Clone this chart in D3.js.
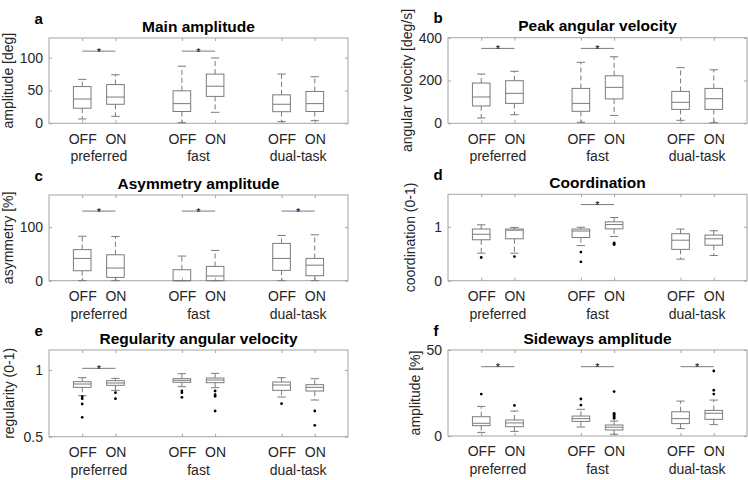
<!DOCTYPE html>
<html>
<head>
<meta charset="utf-8">
<script src="https://cdn.jsdelivr.net/npm/d3@7"></script>
<style>
  html, body { margin: 0; padding: 0; background: #fff; }
  svg { display: block; font-family: "Liberation Sans", Arial, sans-serif; }
</style>
</head>
<body>
<svg id="chart" width="748" height="480"></svg>
<script>
// ---------------- DATA ----------------
const categories = ["preferred", "fast", "dual-task"];
const conditions = ["OFF", "ON"];
const boxPositions = [1, 2, 4, 5, 7, 8];

// box stats per box: [lower whisker, Q1, median, Q3, upper whisker]
const aStats = [[6.6, 23, 37, 56, 67], [10.6, 29, 40, 59, 74], [1, 18, 30, 49.5, 87], [16.7, 41, 56.5, 75, 99.5], [2.5, 17.7, 29, 43.4, 75], [4, 18, 30, 48.5, 71]];
const aOutliers = [[], [], [], [], [], []];
const aSig = [[0, 110], [1, 110]];

const bStats = [[25, 81, 123, 188, 230], [40, 93, 140, 199, 243], [5, 56, 93, 163, 285], [37, 114, 168, 222, 311], [14, 65, 98, 149, 260], [3, 65, 115, 163, 250]];
const bOutliers = [[], [], [], [], [], []];
const bSig = [[0, 350], [1, 350]];

const cStats = [[0, 18.6, 41.6, 58, 83], [0, 6.2, 23.6, 48.4, 82.6], [0, 0, 0, 20.5, 46], [0, 0, 8.7, 26.7, 56.5], [0, 19.3, 41.6, 69.6, 84.5], [0, 9.3, 29, 41.6, 85.7]];
const cOutliers = [[], [], [], [], [], []];
const cSig = [[0, 130], [1, 130], [2, 130]];

const dStats = [[0.51, 0.758, 0.86, 0.957, 1.035], [0.51, 0.776, 0.935, 0.957, 0.987], [0.65, 0.80, 0.92, 0.956, 0.99], [0.82, 0.96, 1.04, 1.09, 1.17], [0.40, 0.58, 0.75, 0.87, 0.956], [0.466, 0.658, 0.776, 0.845, 0.925]];
const dOutliers = [[0.43], [0.447], [0.53, 0.35], [0.70, 0.68, 0.67], [], []];
const dSig = [[1, 1.41]];

const eStats = [[0.8075, 0.87, 0.895, 0.9125, 0.9425], [0.8475, 0.885, 0.9025, 0.92, 0.9375], [0.875, 0.9075, 0.9225, 0.935, 0.9725], [0.8675, 0.905, 0.925, 0.94, 0.975], [0.7975, 0.8475, 0.8875, 0.91, 0.9425], [0.775, 0.8425, 0.87, 0.89, 0.935]];
const eOutliers = [[0.80, 0.785, 0.745, 0.645], [0.83, 0.785], [0.8425, 0.83, 0.795], [0.8425, 0.815, 0.8025, 0.6925], [0.7475], [0.6925, 0.585]];
const eSig = [[0, 1.0125]];

const fStats = [[2.1, 6, 7.4, 11.2, 17.2], [2.7, 5.4, 7.6, 9.3, 14.5], [5.2, 8.5, 10.1, 11.6, 15.5], [1, 3.5, 5.1, 6.4, 8.7], [4.3, 7.2, 10.1, 14.1, 20.3], [6.6, 9.7, 13.2, 14.9, 20.9]];
const fOutliers = [[24.4], [17.8], [21.5, 18], [25.8, 13.2, 12.5, 11.8, 11.0, 10.3], [], [37.8, 26.6, 24.4]];
const fSig = [[0, 40.3], [1, 40.3], [2, 40.3]];

const panelLetters = ["a", "b", "c", "d", "e", "f"];
const panelTitles = ["Main amplitude", "Peak angular velocity", "Asymmetry amplitude", "Coordination", "Regularity angular velocity", "Sideways amplitude"];
const yLabels = ["amplitude [deg]", "angular velocity [deg/s]", "asymmetry [%]", "coordination (0-1)", "regularity (0-1)", "amplitude [%]"];
const yDomains = [[0, 130], [0, 400], [0, 160], [0, 1.6], [0.5, 1.15], [0, 50]];
const yTicks = [[0, 50, 100], [0, 200, 400], [0, 100], [0, 1], [0.5, 1], [0, 50]];

// ---------------- LAYOUT ----------------
const panels = [
  { left: 49, top: 38, bottom: 123.3, labelOff: 36, stats: aStats, outliers: aOutliers, sig: aSig },
  { left: 448, top: 37.7, bottom: 123.3, labelOff: 36, stats: bStats, outliers: bOutliers, sig: bSig },
  { left: 49, top: 195, bottom: 280.7, labelOff: 36, stats: cStats, outliers: cOutliers, sig: cSig },
  { left: 448, top: 194.3, bottom: 280.7, labelOff: 33, stats: dStats, outliers: dOutliers, sig: dSig },
  { left: 49, top: 350, bottom: 436.7, labelOff: 35, stats: eStats, outliers: eOutliers, sig: eSig },
  { left: 448, top: 350, bottom: 436, labelOff: 28, stats: fStats, outliers: fOutliers, sig: fSig }
];
const plotW = 299;
const frameColor = "#a3a3a3";
const boxColor = "#7b7b7b";
const textColor = "#262626";

const svg = d3.select("#chart");

panels.forEach((p, i) => {
  const x = d3.scaleLinear().domain([0, 9]).range([p.left, p.left + plotW]);
  const y = d3.scaleLinear().domain(yDomains[i]).range([p.bottom, p.top]);
  const g = svg.append("g");
  const fmt = d => String(d);

  // frame
  g.append("rect")
    .attr("x", x(0)).attr("y", y(yDomains[i][1]))
    .attr("width", x(9) - x(0)).attr("height", y(yDomains[i][0]) - y(yDomains[i][1]))
    .attr("fill", "none").attr("stroke", frameColor).attr("stroke-width", 1);

  // left axis
  const ax = g.append("g").attr("transform", `translate(${x(0)},0)`)
    .call(d3.axisLeft(y).tickValues(yTicks[i]).tickFormat(fmt).tickSizeInner(-3).tickSizeOuter(0).tickPadding(6));
  // right ticks
  const axR = g.append("g").attr("transform", `translate(${x(9)},0)`)
    .call(d3.axisRight(y).tickValues(yTicks[i]).tickFormat("").tickSizeInner(-3).tickSizeOuter(0));
  // bottom axis
  const xTickLabels = boxPositions.map((_, k) => conditions[k % 2]);
  const axB = g.append("g").attr("transform", `translate(0,${y(yDomains[i][0])})`)
    .call(d3.axisBottom(x).tickValues(boxPositions).tickFormat((d, k) => xTickLabels[k]).tickSizeInner(-3).tickSizeOuter(0).tickPadding(10.5));
  // top ticks
  const axT = g.append("g").attr("transform", `translate(0,${y(yDomains[i][1])})`)
    .call(d3.axisTop(x).tickValues(boxPositions).tickFormat("").tickSizeInner(-3).tickSizeOuter(0));

  [ax, axR, axB, axT].forEach(a => {
    a.select(".domain").remove();
    a.selectAll(".tick line").attr("stroke", frameColor);
    a.selectAll("text").attr("fill", textColor).style("font-size", "14px").style("font-family", "'Liberation Sans', Arial, sans-serif");
  });

  // group labels
  categories.forEach((c, k) => {
    g.append("text")
      .attr("x", x((boxPositions[2 * k] + boxPositions[2 * k + 1]) / 2))
      .attr("y", y(yDomains[i][0]) + 38)
      .attr("text-anchor", "middle").attr("fill", textColor)
      .style("font-size", "14px").text(c);
  });

  // y label
  g.append("text")
    .attr("transform", `translate(${p.left - p.labelOff},${(y.range()[0] + y.range()[1]) / 2}) rotate(-90)`)
    .attr("text-anchor", "middle").attr("fill", textColor)
    .style("font-size", "14px").text(yLabels[i]);

  // title
  g.append("text")
    .attr("x", (x(0) + x(9)) / 2).attr("y", y(yDomains[i][1]) - 6.5)
    .attr("text-anchor", "middle").attr("fill", "#000")
    .style("font-size", "15.5px").style("font-weight", "bold").text(panelTitles[i]);

  // panel letter
  g.append("text")
    .attr("x", x(0) - 14.5).attr("y", y(yDomains[i][1]) - 14.3)
    .attr("fill", "#000")
    .style("font-size", "15px").style("font-weight", "bold").text(panelLetters[i]);

  // boxes
  const bw = 0.265, cw = 0.125;
  p.stats.forEach((s, k) => {
    const cx = boxPositions[k];
    const [lo, q1, md, q3, hi] = s;
    // whiskers
    g.append("line").attr("x1", x(cx)).attr("x2", x(cx)).attr("y1", y(q3)).attr("y2", y(hi))
      .attr("stroke", boxColor).attr("stroke-dasharray", "5,3");
    g.append("line").attr("x1", x(cx)).attr("x2", x(cx)).attr("y1", y(q1)).attr("y2", y(lo))
      .attr("stroke", boxColor).attr("stroke-dasharray", "5,3");
    // caps
    [lo, hi].forEach(v => {
      g.append("line").attr("x1", x(cx - cw)).attr("x2", x(cx + cw)).attr("y1", y(v)).attr("y2", y(v))
        .attr("stroke", boxColor);
    });
    // box
    g.append("rect").attr("x", x(cx - bw)).attr("y", y(q3))
      .attr("width", x(cx + bw) - x(cx - bw)).attr("height", Math.max(0, y(q1) - y(q3)))
      .attr("fill", "none").attr("stroke", boxColor);
    // median
    g.append("line").attr("x1", x(cx - bw)).attr("x2", x(cx + bw)).attr("y1", y(md)).attr("y2", y(md))
      .attr("stroke", boxColor);
    // outliers
    p.outliers[k].forEach(v => {
      g.append("circle").attr("cx", x(cx)).attr("cy", y(v)).attr("r", 1.4).attr("fill", "#000");
    });
  });

  // significance bars
  p.sig.forEach(([grp, v]) => {
    const x1 = x(boxPositions[2 * grp]), x2 = x(boxPositions[2 * grp + 1]);
    g.append("line").attr("x1", x1).attr("x2", x2).attr("y1", y(v)).attr("y2", y(v))
      .attr("stroke", boxColor);
    g.append("text").attr("x", (x1 + x2) / 2).attr("y", y(v) + 4.5)
      .attr("text-anchor", "middle").attr("fill", "#000")
      .style("font-size", "11px").text("*");
  });
});
</script>
</body>
</html>
